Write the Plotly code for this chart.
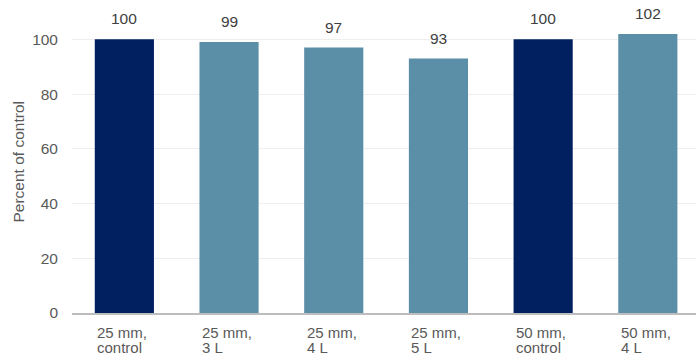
import plotly.graph_objects as go

# Relative yield per treatment
line1 = ["25 mm,", "25 mm,", "25 mm,", "25 mm,", "50 mm,", "50 mm,"]
line2 = ["control", "3 L", "4 L", "5 L", "control", "4 L"]
values = [100, 99, 97, 93, 100, 102]
is_control = [True, False, False, False, True, False]

NAVY = "#002060"
TEAL = "#5b8fa8"
FONT = "Liberation Sans, Arial, Helvetica, sans-serif"
TICK_GREY = "#595959"
LABEL_GREY = "#404040"
FS = 15.5
FS_CAT = 15

x = list(range(len(values)))
colors = [NAVY if c else TEAL for c in is_control]

fig = go.Figure(
    go.Bar(
        x=x,
        y=values,
        marker=dict(color=colors, line=dict(width=0)),
        width=0.565,
        hoverinfo="skip",
    )
)

annotations = []
# Value labels above the bars
for xi, v in zip(x, values):
    annotations.append(dict(
        x=xi, y=v, xref="x", yref="y", text=str(v), showarrow=False,
        xanchor="center", yanchor="bottom", yshift=10,
        font=dict(family=FONT, size=FS, color=LABEL_GREY),
    ))
# Two-line, left-aligned category labels under the bars (tight leading)
for xi, a, b in zip(x, line1, line2):
    annotations.append(dict(
        x=xi, y=0, xref="x", yref="paper", text=a, showarrow=False,
        xanchor="left", yanchor="top", xshift=-28, yshift=-10,
        borderpad=0,
        font=dict(family=FONT, size=FS_CAT, color=TICK_GREY),
    ))
    annotations.append(dict(
        x=xi, y=0, xref="x", yref="paper", text=b, showarrow=False,
        xanchor="left", yanchor="top", xshift=-28, yshift=-25,
        borderpad=0,
        font=dict(family=FONT, size=FS_CAT, color=TICK_GREY),
    ))
# Axis title
annotations.append(dict(
    x=0, y=0.5, xref="paper", yref="paper", text="Percent of control",
    showarrow=False, textangle=-90, xanchor="center", yanchor="middle",
    xshift=-54, font=dict(family=FONT, size=FS, color=TICK_GREY),
))

fig.update_layout(
    width=696,
    height=355,
    margin=dict(l=72, r=0, t=12, b=42),
    paper_bgcolor="white",
    plot_bgcolor="white",
    showlegend=False,
    bargap=0.4,
    font=dict(family=FONT, size=FS, color=TICK_GREY),
    annotations=annotations,
    xaxis=dict(
        range=[-0.5, 5.46],
        showticklabels=False,
        ticks="",
        showgrid=False,
        zeroline=False,
        showline=True,
        linecolor="#bdbdbd",
        linewidth=2,
        fixedrange=True,
    ),
    yaxis=dict(
        range=[0, 110],
        tickvals=[0, 20, 40, 60, 80, 100],
        showgrid=True,
        gridcolor="#eeeeee",
        gridwidth=1,
        zeroline=False,
        showline=False,
        ticks="",
        ticklabelstandoff=13,
        tickfont=dict(family=FONT, size=FS, color=TICK_GREY),
        fixedrange=True,
    ),
)

fig.write_html("out.html")
